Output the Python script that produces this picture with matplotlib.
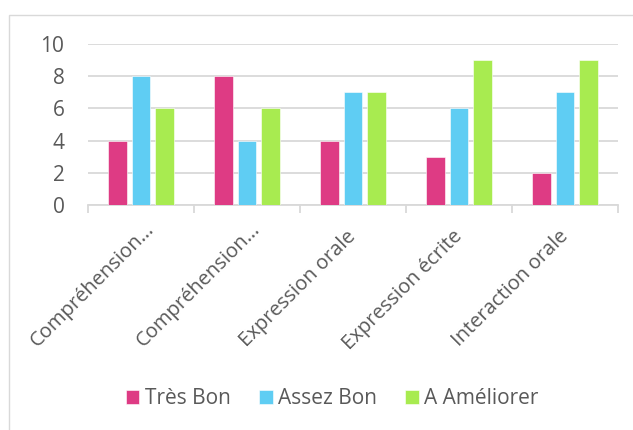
import matplotlib
matplotlib.use("Agg")
import matplotlib.pyplot as plt
import matplotlib.transforms as mtransforms
import numpy as np
from matplotlib.patches import Rectangle

categories = ["Compréhension…", "Compréhension…", "Expression orale", "Expression écrite", "Interaction orale"]
series_names = ["Très Bon", "Assez Bon", "A Améliorer"]
tres_bon = [4, 8, 4, 3, 2]
assez_bon = [8, 4, 7, 6, 7]
a_ameliorer = [6, 6, 7, 9, 9]
colors = ["#DE3B84", "#5FCDF3", "#A8EB50"]
yticks = [0, 2, 4, 6, 8, 10]

plt.rcParams['font.family'] = ['Open Sans', 'DejaVu Sans']
TXT = '#595959'
GRID = '#d9d9d9'
W, H = 633, 430
fig = plt.figure(figsize=(W/100, H/100), dpi=100)
ax = fig.add_axes([88/W, 1-205/H, (618-88)/W, (205-44)/H])

x = np.arange(len(categories))
bw = 0.175
pitch = 0.222
for i, (vals, name) in enumerate(zip([tres_bon, assez_bon, a_ameliorer], series_names)):
    ax.bar(x + (i-1)*pitch, vals, width=bw, color=colors[i], label=name, zorder=3,
           edgecolor='white', linewidth=0.4)

ax.set_xlim(-0.5, len(categories)-0.5)
ax.set_ylim(0, 10)
ax.set_yticks(yticks)
ax.set_yticklabels([str(t) for t in yticks])
ax.grid(axis='y', color=GRID, linewidth=1.3, zorder=0)
for s in ['left', 'right', 'top']:
    ax.spines[s].set_visible(False)
ax.spines['bottom'].set_color(GRID)
ax.spines['bottom'].set_linewidth(1.3)
ax.tick_params(axis='y', length=0, pad=17, labelsize=15, labelcolor=TXT)
ax.set_xticks(np.arange(-0.5, len(categories), 1.0))
ax.set_xticklabels([])
ax.tick_params(axis='x', which='major', length=6, color=GRID, width=1.3)

# category labels rotated 45 degrees, anchored at their baseline's right end
for i, lab in enumerate(categories):
    if lab.endswith('…'):
        dx, dy = 14, 25
    else:
        dx, dy = 4, 32
    off = mtransforms.ScaledTranslation(dx/100, -dy/100, fig.dpi_scale_trans)
    ax.text(i, 0, lab, transform=ax.get_xaxis_transform() + off, rotation=45,
            rotation_mode='anchor', ha='right', va='baseline', fontsize=14.5, color=TXT)

leg = fig.legend(loc='center', bbox_to_anchor=(332/W, 1-399/H), ncol=3, frameon=False,
                 fontsize=15, handlelength=0.67, handleheight=0.67, handletextpad=0.25,
                 columnspacing=1.35, borderpad=0, borderaxespad=0)
for t in leg.get_texts():
    t.set_color(TXT)

fig.patches.append(Rectangle((9/W, -0.1), 1.2, 1.1 - 15/H,
                             transform=fig.transFigure, fill=False, edgecolor=GRID,
                             linewidth=1.0))
fig.savefig("out.png", dpi=100)
